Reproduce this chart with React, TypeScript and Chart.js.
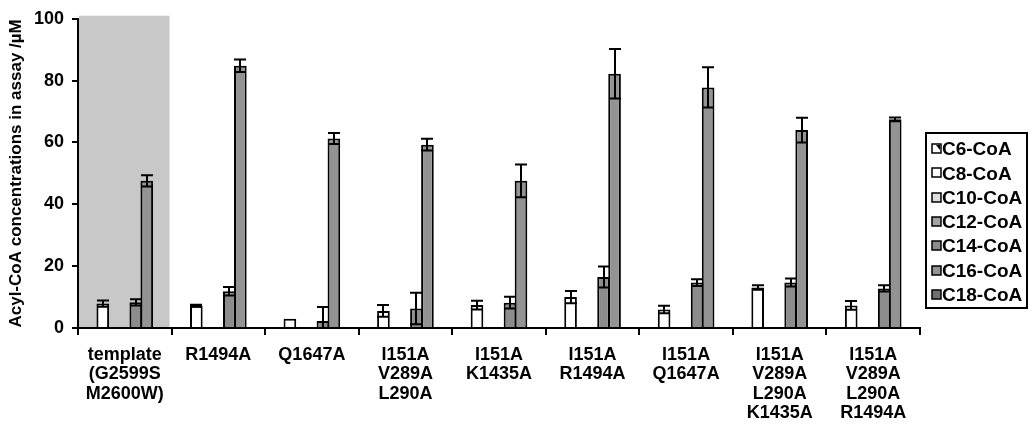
import React, { useEffect, useRef } from "react";
import { Chart, registerables } from "chart.js";

Chart.register(...registerables);

const FONT = "'Liberation Sans', Arial, Helvetica, sans-serif";

const categories: string[][] = [
  ["template", "(G2599S", "M2600W)"],
  ["R1494A"],
  ["Q1647A"],
  ["I151A", "V289A", "L290A"],
  ["I151A", "K1435A"],
  ["I151A", "R1494A"],
  ["I151A", "Q1647A"],
  ["I151A", "V289A", "L290A", "K1435A"],
  ["I151A", "V289A", "L290A", "R1494A"],
];

const seriesNames = ["C6-CoA", "C8-CoA", "C10-CoA", "C12-CoA", "C14-CoA", "C16-CoA", "C18-CoA"];
const seriesColors = ["#ffffff", "#ffffff", "#dcdcdc", "#a3a3a3", "#8c8c8c", "#939393", "#707070"];

const c6 = [0, 0, 0, 0, 0, 0, 0, 0, 0];
const c8 = [7.9, 7.2, 3.0, 5.5, 7.4, 10.0, 6.0, 13.1, 7.3];
const c8Err = [1.0, 0.3, 0, 1.9, 1.4, 2.0, 1.2, 0.7, 1.4];
const c10 = [0, 0, 0, 0, 0, 0, 0, 0, 0];
const c12 = [0, 0, 0, 0, 0, 0, 0, 0, 0];
const c14 = [8.3, 11.9, 2.3, 6.3, 8.2, 16.5, 14.7, 14.7, 12.8];
const c14Err = [1.0, 1.4, 4.5, 5.1, 1.9, 3.4, 1.1, 1.3, 1.0];
const c16 = [47.6, 84.8, 61.3, 59.3, 47.6, 82.2, 77.8, 64.0, 67.5];
const c16Err = [1.8, 2.0, 1.8, 1.9, 5.3, 8.0, 6.5, 4.0, 0.6];
const c18 = [0, 0, 0, 0, 0, 0, 0, 0, 0];

const yTicks = [0, 20, 40, 60, 80, 100];
const yTitle = "Acyl-CoA concentrations in assay /µM";

const seriesValues = [c6, c8, c10, c12, c14, c16, c18];
const seriesErrors: (number[] | null)[] = [null, c8Err, null, null, c14Err, c16Err, null];

const shadePlugin = {
  id: "shade",
  beforeDatasetsDraw(chart: any) {
    const { ctx, chartArea } = chart;
    const y = chart.scales.y;
    const w = (chartArea.right - chartArea.left) / categories.length;
    const top = y.getPixelForValue(101);
    ctx.save();
    ctx.fillStyle = "#c8c8c8";
    ctx.fillRect(chartArea.left + 1, top, w - 3, chartArea.bottom - top - 1);
    ctx.restore();
  },
};

const errorPlugin = {
  id: "errbars",
  afterDatasetsDraw(chart: any) {
    const { ctx } = chart;
    const y = chart.scales.y;
    ctx.save();
    ctx.strokeStyle = "#000";
    ctx.lineWidth = 2;
    chart.data.datasets.forEach((ds: any, i: number) => {
      const errs = seriesErrors[i];
      if (!errs) return;
      const meta = chart.getDatasetMeta(i);
      meta.data.forEach((el: any, j: number) => {
        const e = errs[j];
        const v = ds.data[j];
        if (!e || !v) return;
        const x = Math.round(el.x);
        const yHi = y.getPixelForValue(v + e);
        const lo = v - e;
        const yLo = y.getPixelForValue(Math.max(lo, 0));
        const hw = 6;
        ctx.beginPath();
        ctx.moveTo(x, yHi);
        ctx.lineTo(x, yLo);
        ctx.moveTo(x - hw, yHi);
        ctx.lineTo(x + hw, yHi);
        if (lo > 0) {
          ctx.moveTo(x - hw, yLo);
          ctx.lineTo(x + hw, yLo);
        }
        ctx.stroke();
      });
    });
    ctx.restore();
  },
};

const legendPlugin = {
  id: "boxLegend",
  afterDraw(chart: any) {
    const { ctx } = chart;
    const bx = 926, by = 133, bw = 101, bh = 175;
    ctx.save();
    ctx.fillStyle = "#fff";
    ctx.fillRect(bx, by, bw, bh);
    ctx.strokeStyle = "#000";
    ctx.lineWidth = 2;
    ctx.strokeRect(bx, by, bw, bh);
    ctx.font = `bold 19px ${FONT}`;
    ctx.textBaseline = "middle";
    ctx.textAlign = "left";
    chart.data.datasets.forEach((ds: any, i: number) => {
      const cy = 149 + i * 24.3;
      const mx = 932, my = Math.round(cy - 5), ms = 9;
      ctx.fillStyle = ds.backgroundColor;
      ctx.fillRect(mx, my, ms, ms);
      if (i === 0) {
        ctx.fillStyle = "#000";
        ctx.beginPath();
        ctx.moveTo(mx + 4, my + 1);
        ctx.lineTo(mx + ms - 1, my + 1);
        ctx.lineTo(mx + ms - 1, my + 6);
        ctx.closePath();
        ctx.fill();
      }
      ctx.strokeStyle = "#000";
      ctx.lineWidth = 1.5;
      ctx.strokeRect(mx, my, ms, ms);
      ctx.fillStyle = "#000";
      ctx.fillText(ds.label, 942, cy + 1);
    });
    ctx.restore();
  },
};

export default function App() {
  const ref = useRef<HTMLCanvasElement | null>(null);

  useEffect(() => {
    if (!ref.current) return;
    const chart = new Chart(ref.current, {
      type: "bar",
      data: {
        labels: categories,
        datasets: seriesNames.map((name, i) => ({
          label: name,
          data: seriesValues[i],
          backgroundColor: seriesColors[i],
          borderColor: "#000",
          borderWidth: 2,
          barPercentage: 1.15,
          categoryPercentage: 0.823,
        })),
      },
      options: {
        responsive: false,
        animation: false,
        events: [],
        layout: { padding: { top: 15, right: 108, left: 0, bottom: 0 } },
        plugins: {
          legend: { display: false },
          tooltip: { enabled: false },
          title: { display: false },
        },
        scales: {
          x: {
            grid: {
              display: true,
              drawOnChartArea: false,
              drawTicks: true,
              tickLength: 7,
              color: "#000",
              lineWidth: 2,
              offset: true,
            },
            border: { display: true, color: "#000", width: 2 },
            ticks: {
              color: "#000",
              font: { family: FONT, size: 18, weight: "bold", lineHeight: 1.08 },
              padding: 10,
              maxRotation: 0,
              minRotation: 0,
              autoSkip: false,
            },
            afterFit(scale: any) {
              scale.height = 104;
            },
          },
          y: {
            min: 0,
            max: 100,
            afterBuildTicks(scale: any) {
              scale.ticks = yTicks.map((v) => ({ value: v }));
            },
            grid: {
              display: true,
              drawOnChartArea: false,
              drawTicks: true,
              tickLength: 6,
              color: "#000",
              lineWidth: 2,
            },
            border: { display: true, color: "#000", width: 2 },
            ticks: {
              color: "#000",
              font: { family: FONT, size: 18, weight: "bold" },
              padding: 8,
            },
            title: {
              display: true,
              text: yTitle,
              color: "#000",
              font: { family: FONT, size: 17, weight: "bold" },
              padding: { top: 6, bottom: 0 },
            },
            afterFit(scale: any) {
              scale.width = 78;
            },
          },
        },
      },
      plugins: [shadePlugin, errorPlugin, legendPlugin],
    } as any);
    return () => chart.destroy();
  }, []);

  return (
    <div style={{ position: "fixed", left: 0, top: 0, width: 1028, height: 432, background: "#fff" }}>
      <canvas ref={ref} width={1028} height={432} style={{ display: "block" }} />
    </div>
  );
}
